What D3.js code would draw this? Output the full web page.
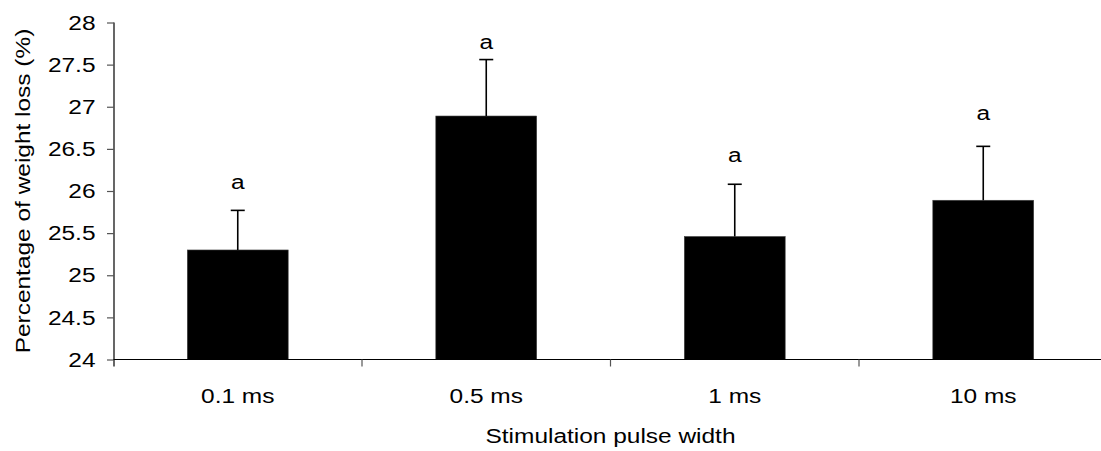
<!DOCTYPE html>
<html>
<head>
<meta charset="utf-8">
<script src="https://cdn.jsdelivr.net/npm/d3@7"></script>
<style>
  html, body { margin: 0; padding: 0; background: #fff; }
  svg { display: block; }
  text { font-family: "Liberation Sans", Arial, sans-serif; fill: #000; }
</style>
</head>
<body>
<svg id="chart" width="1101" height="451"></svg>
<script>
// ---- data ----
const categories = ["0.1 ms", "0.5 ms", "1 ms", "10 ms"];
const means      = [25.30, 26.89, 25.46, 25.89];
const errors     = [0.47, 0.67, 0.62, 0.64];
const letters    = ["a", "a", "a", "a"];
const letterAt   = [26.02, 27.68, 26.35, 26.84];
const yTicks     = [24, 24.5, 25, 25.5, 26, 26.5, 27, 27.5, 28];
const yTickLabels = ["24", "24.5", "25", "25.5", "26", "26.5", "27", "27.5", "28"];
const xTitle = "Stimulation pulse width";
const yTitle = "Percentage of weight loss (%)";

(function () {
// ---- layout ----
const svg = d3.select("#chart");
const pLeft = 113.5, pRight = 1107.5, pTop = 22.5, pBottom = 359.5;
const stretch = 1.165;
const fs = 21;

const x = d3.scaleBand().domain(categories).range([pLeft, pRight])
  .paddingInner(0.594).paddingOuter(0.297);
const y = d3.scaleLinear().domain([24, 28]).range([pBottom, pTop]);
const step = x.step();
const half = step * x.paddingInner() / 2;

// bars
svg.append("g").selectAll("rect").data(categories).join("rect")
  .attr("x", d => x(d))
  .attr("width", x.bandwidth())
  .attr("y", (d, i) => y(means[i]))
  .attr("height", (d, i) => y(24) - y(means[i]))
  .attr("fill", "#000")
  .attr("stroke", "#444")
  .attr("stroke-width", 0.6);

// error bars
const eb = svg.append("g").attr("stroke", "#000").attr("stroke-width", 1.6);
categories.forEach((c, i) => {
  const cx = x(c) + x.bandwidth() / 2;
  eb.append("line").attr("x1", cx).attr("x2", cx)
    .attr("y1", y(means[i])).attr("y2", y(means[i] + errors[i]));
  eb.append("line").attr("x1", cx - 7).attr("x2", cx + 7)
    .attr("y1", y(means[i] + errors[i])).attr("y2", y(means[i] + errors[i]));
});

// letters
svg.append("g").selectAll("text").data(categories).join("text")
  .attr("transform", (d, i) => `translate(${x(d) + x.bandwidth() / 2},${y(letterAt[i])}) scale(${stretch},1)`)
  .attr("text-anchor", "middle")
  .attr("font-size", fs)
  .text((d, i) => letters[i]);

// y axis
const yAxis = d3.axisLeft(y).tickValues(yTicks)
  .tickFormat((d, i) => yTickLabels[i]).tickSize(7).tickSizeOuter(0);
const gy = svg.append("g").attr("transform", `translate(${pLeft + 0.5},0)`).call(yAxis);
gy.select(".domain").attr("stroke", "#000").attr("stroke-width", 1.2)
  .attr("d", `M0,${pTop}V${pBottom + 7}`);
gy.selectAll(".tick line").attr("stroke", "#555").attr("stroke-width", 1.2);
gy.selectAll(".tick text")
  .attr("x", 0)
  .attr("transform", `translate(-18.5,0) scale(${stretch},1)`)
  .attr("font-size", fs)
  .attr("font-family", "Liberation Sans, Arial, sans-serif")
  .attr("fill", "#000");

// x axis (labels at centers, ticks at band boundaries)
const xAxis = d3.axisBottom(x).tickSize(0).tickPadding(0);
const gx = svg.append("g").attr("transform", `translate(0,${pBottom})`).call(xAxis);
gx.select(".domain").remove();
gx.selectAll(".tick text")
  .attr("y", 0).attr("dy", 0)
  .attr("transform", `translate(0,43.5) scale(${stretch},1)`)
  .attr("font-size", fs)
  .attr("font-family", "Liberation Sans, Arial, sans-serif")
  .attr("fill", "#000");

svg.append("line").attr("x1", pLeft).attr("x2", pRight)
  .attr("y1", pBottom).attr("y2", pBottom)
  .attr("stroke", "#000").attr("stroke-width", 1.2);
const bounds = categories.map(c => x(c) - half).concat([pRight]);
svg.append("g").selectAll("line").data(bounds.slice(1)).join("line")
  .attr("x1", d => d).attr("x2", d => d)
  .attr("y1", pBottom).attr("y2", pBottom + 7)
  .attr("stroke", "#555").attr("stroke-width", 1.2);

// axis titles
svg.append("text")
  .attr("transform", `translate(${(pLeft + pRight) / 2},443) scale(${stretch},1)`)
  .attr("text-anchor", "middle").attr("font-size", fs).text(xTitle);
svg.append("text")
  .attr("transform", `translate(30,${(pTop + pBottom) / 2}) rotate(-90) scale(${stretch},1)`)
  .attr("text-anchor", "middle").attr("font-size", fs).text(yTitle);
})();
</script>
</body>
</html>
